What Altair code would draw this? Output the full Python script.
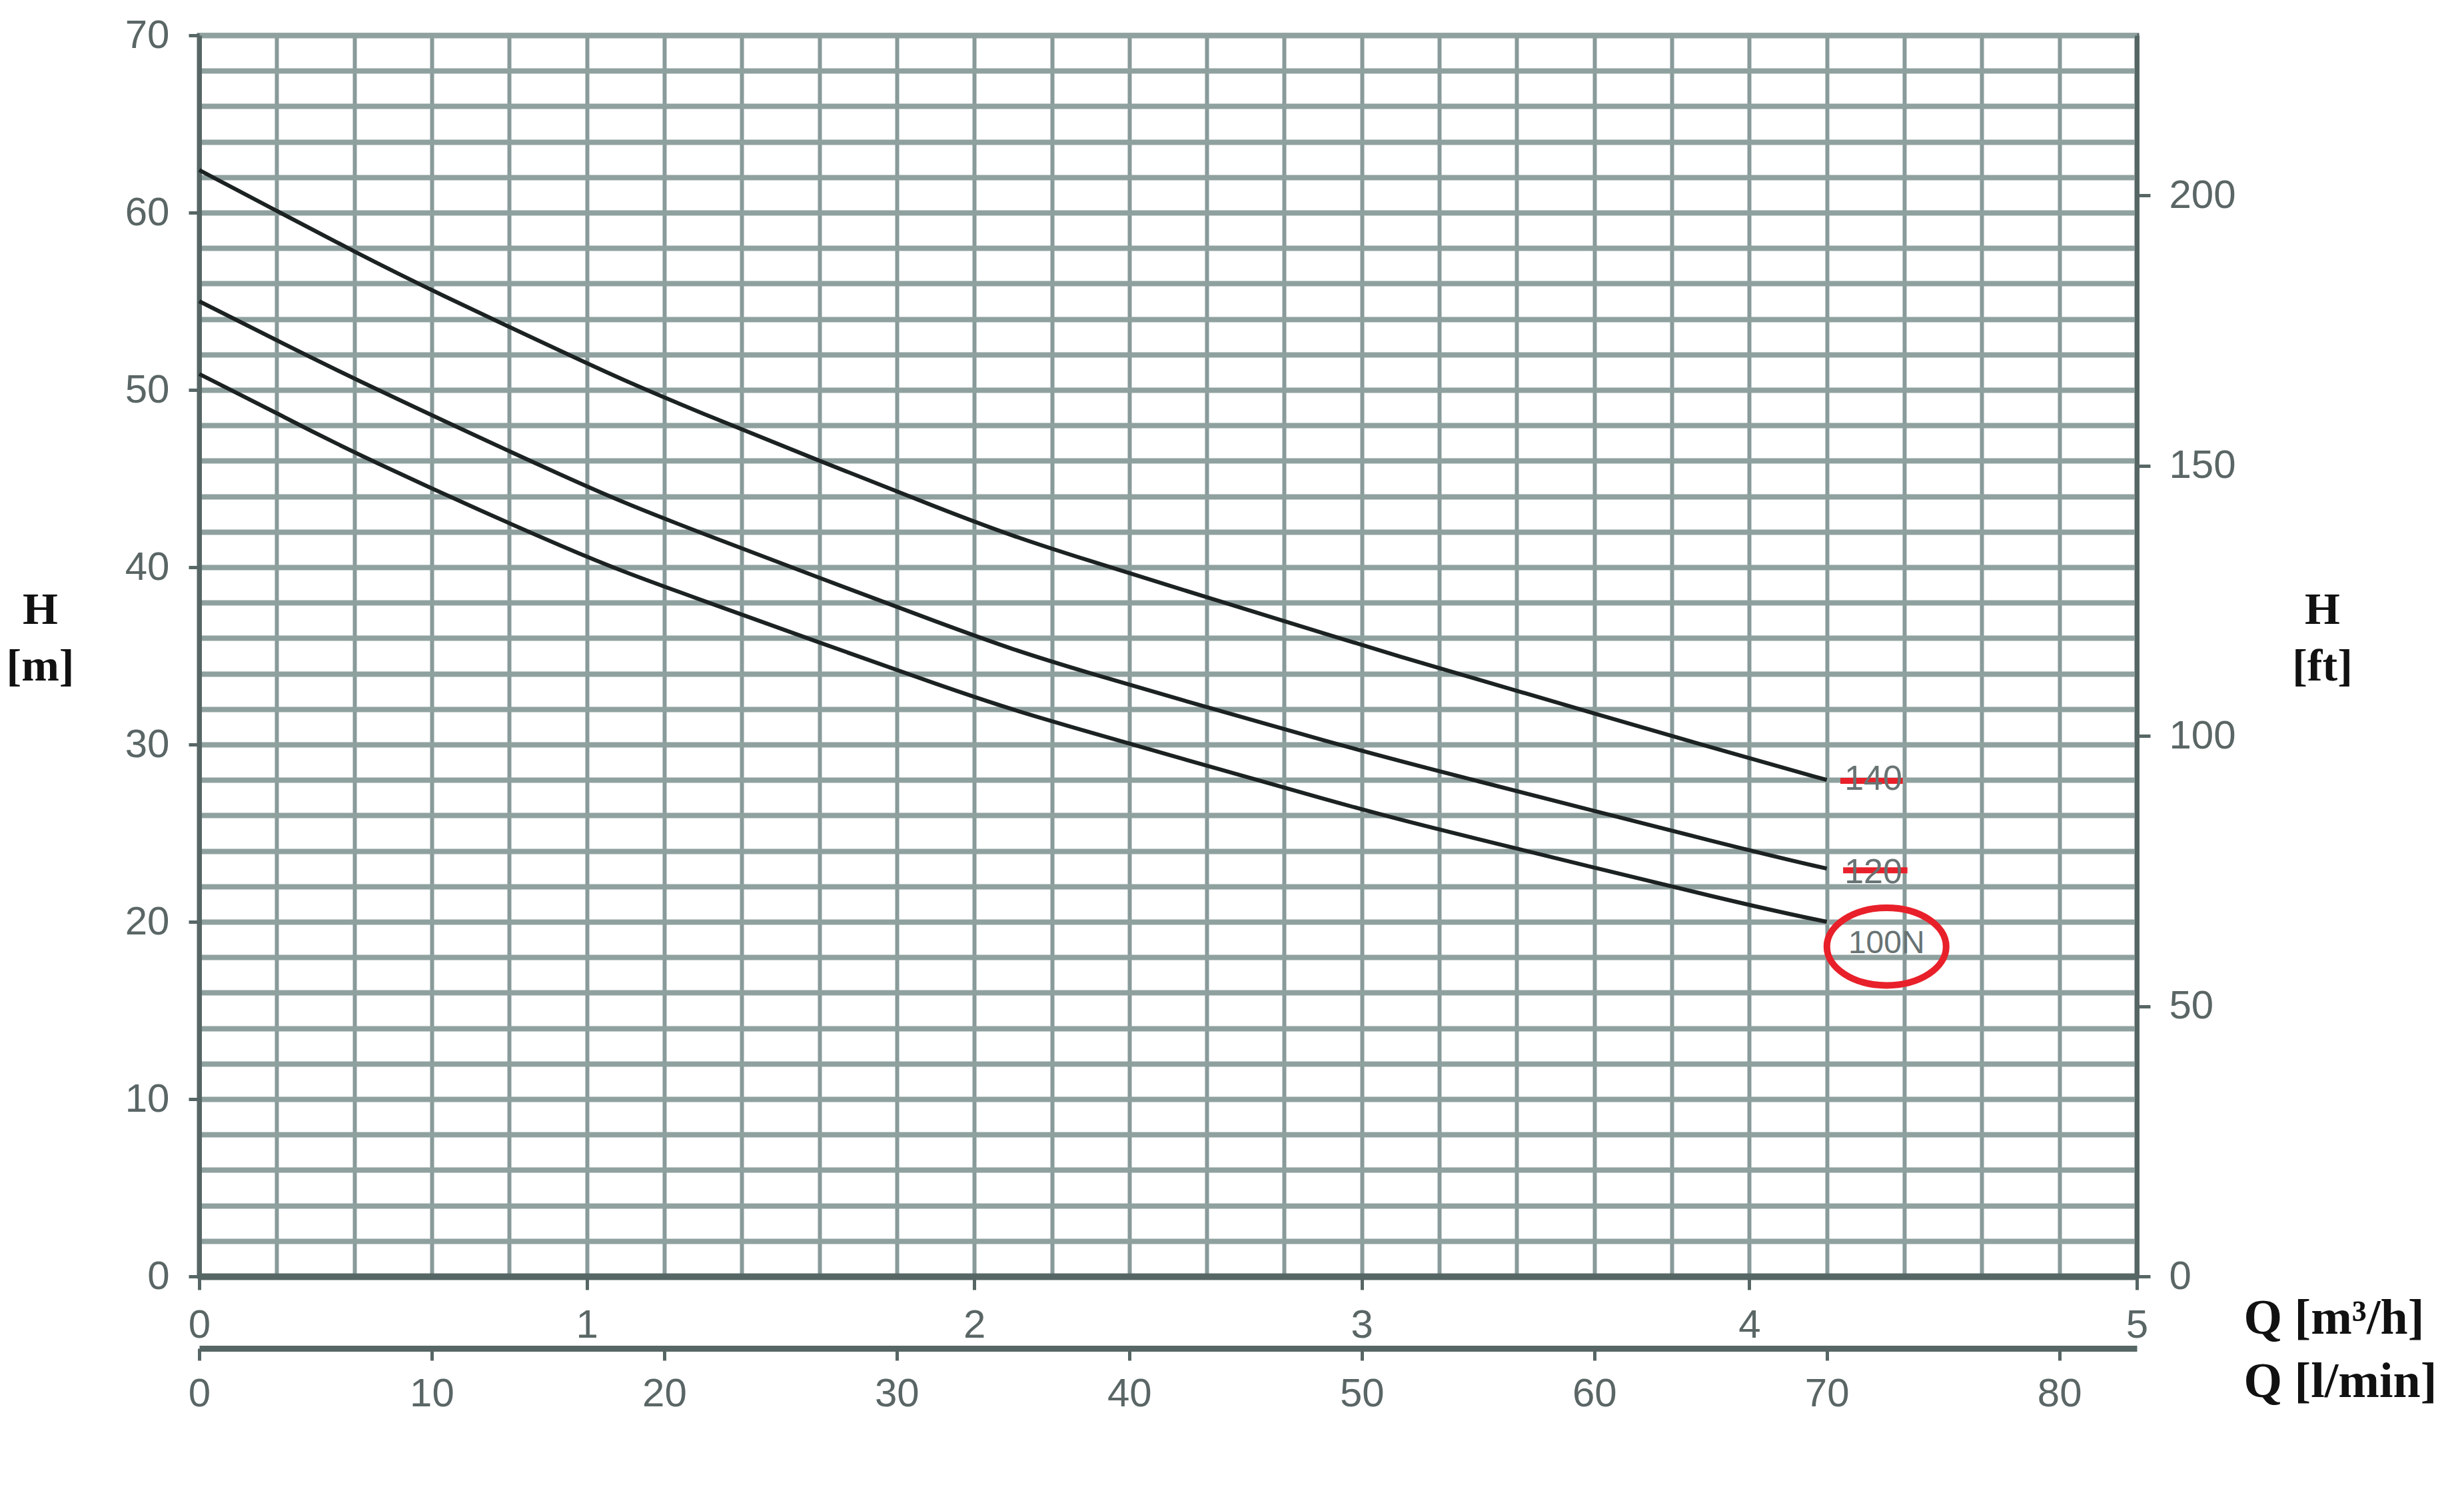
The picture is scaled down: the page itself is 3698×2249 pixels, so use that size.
import altair as alt
import pandas as pd

# ---------------- data ----------------
q_140 = [0, 0.2, 0.4, 0.6, 1.0, 1.2, 2.0, 2.2, 3.0, 3.2, 4.0, 4.2]
h_140 = [62.4, 60.1, 57.8, 55.6, 51.5, 49.5, 42.5, 41.0, 35.6, 34.3, 29.2, 28.0]
q_120 = [0, 0.2, 0.4, 1.0, 1.2, 2.0, 2.2, 3.0, 3.2, 4.0, 4.2]
h_120 = [55.0, 52.8, 50.6, 44.5, 42.7, 36.1, 34.6, 29.6, 28.5, 24.0, 23.0]
q_100 = [0, 0.2, 0.4, 1.0, 1.2, 2.0, 2.2, 3.0, 3.2, 4.0, 4.2]
h_100 = [50.9, 48.7, 46.4, 40.5, 38.9, 32.6, 31.3, 26.3, 25.2, 20.9, 20.0]

label_text = ["140", "120", "100N"]
label_q = [4.32, 4.32, 4.354]
label_h = [28.05, 22.8, 18.75]
label_size = [52, 52, 48]

strike_q1 = [4.235, 4.242]
strike_q2 = [4.396, 4.408]
strike_h = [27.95, 22.9]

circle_q = [4.354]
circle_h = [18.6]

x_grid = [round(i * 0.2, 1) for i in range(26)]
y_grid = list(range(0, 71, 2))
ft_ticks = [0, 50, 100, 150, 200]
lmin_ticks = [0, 10, 20, 30, 40, 50, 60, 70, 80]

Q_MAX = 5
H_MAX = 70
FT_MAX = H_MAX * 3.28084
LMIN_MAX = Q_MAX * 1000 / 60

# ---------------- tables ----------------
curves = pd.concat([
    pd.DataFrame({"Q": q_140, "H": h_140, "pump": "140"}),
    pd.DataFrame({"Q": q_120, "H": h_120, "pump": "120"}),
    pd.DataFrame({"Q": q_100, "H": h_100, "pump": "100N"}),
], ignore_index=True)
labels_df = pd.DataFrame({"Q": label_q, "H": label_h, "t": label_text, "s": label_size})
strike_df = pd.DataFrame({"Q": strike_q1, "Q2": strike_q2, "H": strike_h})
circle_df = pd.DataFrame({"Q": circle_q, "H": circle_h})
ft_df = pd.DataFrame({"ft": ft_ticks})
lmin_df = pd.DataFrame({"lmin": lmin_ticks})

SANS = "Liberation Sans"
SERIF = "Liberation Serif"
GRID_H = "#8fa19f"
GRID_V = "#889a99"
DARK = "#566665"
LABEL = "#5a6665"

xs = alt.Scale(domain=[0, Q_MAX], nice=False, zero=False)
ys = alt.Scale(domain=[0, H_MAX], nice=False, zero=False)

int_test = "abs(datum.value - round(datum.value)) < 0.001"
ten_test = "abs(datum.value/10 - round(datum.value/10)) < 0.001"

x_axis = alt.Axis(
    orient="bottom", values=x_grid, grid=True, gridColor=GRID_V, gridWidth=6, gridOpacity=1,
    labelExpr=f"{int_test} ? format(datum.value, 'd') : ''", labelOverlap=False, labelFlush=False,
    labelFont=SANS, labelFontSize=60, labelColor=LABEL, labelPadding=24,
    ticks=True, tickSize=20, tickWidth=5, tickColor=DARK,
    tickOpacity={"condition": {"test": int_test, "value": 1}, "value": 0},
    domain=True, domainColor=DARK, domainWidth=10,
    title="Q [m³/h]", titleFont=SERIF, titleFontWeight="bold", titleFontSize=74, titleColor="#111111",
    titleAngle=0, titleAlign="left", titleBaseline="alphabetic", titleX=3068, titleY=85,
)
y_axis = alt.Axis(
    orient="left", values=y_grid, grid=True, gridColor=GRID_H, gridWidth=8, gridOpacity=1,
    labelExpr=f"{ten_test} ? format(datum.value, 'd') : ''", labelOverlap=False, labelFlush=False,
    labelFont=SANS, labelFontSize=60, labelColor=LABEL, labelPadding=29,
    ticks=True, tickSize=16, tickWidth=5, tickColor=DARK,
    tickOpacity={"condition": {"test": ten_test, "value": 1}, "value": 0},
    domain=True, domainColor=DARK, domainWidth=7,
    title=["H", "[m]"], titleFont=SERIF, titleFontWeight="bold", titleFontSize=68, titleColor="#111111",
    titleAngle=0, titleAlign="center", titleBaseline="alphabetic", titleLineHeight=85,
    titleX=-239, titleY=882,
)

curve_layer = alt.Chart(curves).mark_line(
    color="#1c2222", strokeWidth=6, interpolate="basis"
).encode(
    x=alt.X("Q:Q", scale=xs, axis=x_axis),
    y=alt.Y("H:Q", scale=ys, axis=y_axis),
    detail="pump:N",
)

strike_layer = alt.Chart(strike_df).mark_rule(color="#e8202a", strokeWidth=9).encode(
    x=alt.X("Q:Q", scale=xs, axis=None),
    x2="Q2:Q",
    y=alt.Y("H:Q", scale=ys, axis=None),
)

text_layer = alt.Chart(labels_df).mark_text(
    font=SANS, color="#687373", align="center", baseline="middle"
).encode(
    x=alt.X("Q:Q", scale=xs, axis=None),
    y=alt.Y("H:Q", scale=ys, axis=None),
    text="t:N",
    size=alt.Size("s:Q", scale=None, legend=None),
)

ellipse = ("M -1 0 C -1 -0.359 -0.5523 -0.65 0 -0.65 C 0.5523 -0.65 1 -0.359 1 0 "
           "C 1 0.359 0.5523 0.65 0 0.65 C -0.5523 0.65 -1 0.359 -1 0 Z")
circle_layer = alt.Chart(circle_df).mark_point(
    shape=ellipse, size=179 * 179, filled=False, color="#e8202a", strokeWidth=10, opacity=1
).encode(
    x=alt.X("Q:Q", scale=xs, axis=None),
    y=alt.Y("H:Q", scale=ys, axis=None),
)

ft_layer = alt.Chart(ft_df).mark_point(opacity=0).encode(
    y=alt.Y("ft:Q", scale=alt.Scale(domain=[0, FT_MAX], nice=False, zero=False),
            axis=alt.Axis(
                orient="right", values=ft_ticks, grid=False,
                labelFont=SANS, labelFontSize=60, labelColor=LABEL, labelPadding=28,
                tickSize=20, tickWidth=5, tickColor=DARK,
                domain=True, domainColor=DARK, domainWidth=7,
                title=["H", "[ft]"], titleFont=SERIF, titleFontWeight="bold", titleFontSize=68,
                titleColor="#111111", titleAngle=0, titleAlign="center", titleBaseline="alphabetic",
                titleLineHeight=85, titleX=278, titleY=882,
            )),
)

lmin_layer = alt.Chart(lmin_df).mark_point(opacity=0).encode(
    x=alt.X("lmin:Q", scale=alt.Scale(domain=[0, LMIN_MAX], nice=False, zero=False),
            axis=alt.Axis(
                orient="bottom", offset=108, values=lmin_ticks, grid=False,
                labelFont=SANS, labelFontSize=60, labelColor=LABEL, labelPadding=21,
                labelFlush=False, labelOverlap=False,
                tickSize=18, tickWidth=5, tickColor=DARK,
                domain=True, domainColor=DARK, domainWidth=9,
                title="Q [l/min]", titleFont=SERIF, titleFontWeight="bold", titleFontSize=74,
                titleColor="#111111", titleAngle=0, titleAlign="left", titleBaseline="alphabetic",
                titleX=3068, titleY=72,
            )),
)

chart = alt.layer(
    curve_layer, strike_layer, text_layer, circle_layer, ft_layer, lmin_layer
).resolve_scale(
    x="independent", y="independent"
).properties(
    width=2908, height=1862,
    autosize=alt.AutoSizeParams(type="none"),
    padding={"left": 291, "top": 45, "right": 483, "bottom": 326},
    background="white",
).configure_view(
    stroke=DARK, strokeWidth=7
)

chart.save("out.html", embed_options={"renderer": "svg", "actions": False})
